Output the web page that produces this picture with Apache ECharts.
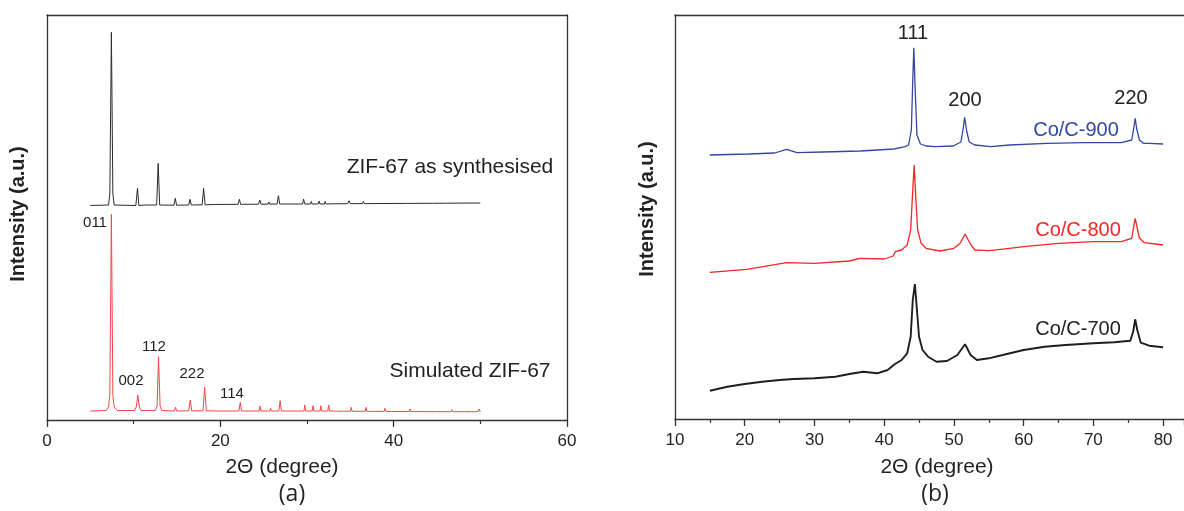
<!DOCTYPE html>
<html>
<head>
<meta charset="utf-8">
<script src="https://cdn.jsdelivr.net/npm/echarts@6/dist/echarts.min.js"></script>
<style>
  html, body { margin: 0; padding: 0; background: #fff; }
  #chart { width: 1184px; height: 511px; }
</style>
</head>
<body>
<div id="chart"></div>
<script>
// (a) ZIF-67 patterns, 2theta and intensity (a.u.)
var zifX = [5, 7.1, 7.25, 7.43, 7.6, 7.75, 10.25, 10.44, 10.6, 11.4, 11.5, 11.6, 12.65, 12.83, 13.0, 14.65, 14.8, 14.95, 16.35, 16.5, 16.65, 17.9, 18.07, 18.25, 19.3, 19.4, 19.5, 22.05, 22.2, 22.35, 24.4, 24.55, 24.7, 25.5, 25.6, 25.7, 26.55, 26.7, 26.85, 29.5, 29.6, 29.75, 30.4, 30.5, 30.6, 31.3, 31.4, 31.5, 32.0, 32.1, 32.2, 33.0, 33.1, 33.2, 34.7, 34.85, 35.0, 36.4, 36.5, 36.6, 39.0, 39.1, 39.2, 41.5, 41.6, 41.7, 44.5, 44.6, 44.7, 46.1, 46.2, 46.3, 48.0, 48.1, 48.2, 50];
var zifY = [214.5, 215, 226, 387.7, 226, 215, 214.5, 231.7, 214.5, 215, 216.5, 215, 215, 256.7, 215, 214.8, 221.7, 214.8, 215, 220.7, 215, 215.2, 231.7, 215.2, 215.5, 217, 215.5, 215.7, 220.7, 215.7, 215.8, 220, 215.8, 215.9, 218, 215.9, 216, 224.3, 216, 216, 221, 216, 216, 218.5, 216, 216, 219, 216, 216, 218.5, 216, 216.2, 218, 216.2, 216.3, 219.3, 216.3, 216.4, 218.5, 216.4, 216.5, 218, 216.5, 216.6, 218, 216.6, 216.7, 218, 216.7, 216.8, 218, 216.8, 216.9, 218, 216.9, 217];

var simX = [5, 6.8, 7.1, 7.25, 7.43, 7.6, 7.75, 8.1, 10.1, 10.3, 10.48, 10.65, 10.85, 12.5, 12.7, 12.87, 13.05, 13.25, 14.7, 14.83, 14.96, 16.35, 16.53, 16.7, 18.0, 18.19, 18.38, 19.5, 19.6, 19.7, 22.15, 22.3, 22.45, 24.5, 24.6, 24.7, 25.7, 25.8, 25.9, 26.75, 26.9, 27.05, 29.65, 29.75, 29.85, 30.6, 30.7, 30.8, 31.5, 31.6, 31.7, 32.4, 32.5, 32.6, 33.4, 33.5, 33.6, 34.2, 34.3, 34.4, 35.0, 35.1, 35.2, 36.7, 36.8, 36.9, 37.4, 37.5, 37.6, 38.9, 39.0, 39.1, 39.75, 39.85, 39.95, 41.8, 41.9, 42.0, 43.2, 43.3, 43.4, 44.1, 44.2, 44.3, 44.95, 45.05, 45.15, 45.7, 45.8, 45.9, 46.6, 46.7, 46.8, 47.45, 47.55, 47.65, 48.2, 48.3, 48.4, 49.0, 49.1, 49.2, 49.76, 49.86, 50];
var simY = [9, 9.5, 13, 25, 205.6, 25, 13, 9.5, 9.5, 13, 25, 13, 9.5, 9.5, 14, 63.3, 14, 9.5, 9, 12.7, 9, 9.2, 20, 9.2, 9.2, 32.7, 9.2, 9, 10.7, 9, 9, 17.7, 9, 9, 14, 9, 9, 11.7, 9, 9, 19.3, 9, 9, 15, 9, 9, 14.3, 9, 9, 14.3, 9, 9, 15, 9, 8.8, 10.7, 8.8, 8.8, 10, 8.8, 8.7, 12.7, 8.7, 8.7, 12.7, 8.7, 8.6, 10, 8.6, 8.6, 11.7, 8.6, 8.5, 9.5, 8.5, 8.5, 11, 8.5, 8.4, 9.5, 8.4, 8.4, 9.5, 8.4, 8.4, 10, 8.4, 8.3, 10, 8.3, 8.3, 10.5, 8.3, 8.3, 10, 8.3, 8.3, 10, 8.3, 8.3, 10, 8.3, 8.3, 11, 8.3];

// (b) Co/C samples
var co900X = [15, 20.5, 24.3, 26, 27.5, 31.2, 36.6, 41.4, 43, 43.5, 43.9, 44.1, 44.25, 44.45, 44.7, 45.2, 46, 47.3, 49.9, 51.0, 51.3, 51.55, 51.8, 52.2, 53, 55.3, 58, 63.3, 68.7, 74, 75.5, 75.8, 76.0, 76.2, 76.6, 77.2, 78, 80];
var co900Y = [264, 265, 266, 269.7, 266.3, 267, 268, 270, 272.3, 274, 289, 339, 371.3, 329, 284, 275, 273, 272.3, 273, 277, 289, 301.7, 289, 277, 274, 272.3, 274, 275.7, 276.3, 276.3, 279, 291, 300.7, 291, 279, 275.7, 275.7, 275];

var co800X = [15, 20.3, 26, 30, 35, 36.5, 40, 41.3, 41.6, 42.5, 43.3, 43.8, 44.1, 44.3, 44.55, 44.8, 45.3, 46, 48, 50, 50.9, 51.6, 52.3, 53, 55, 58, 60, 65, 70, 74, 75.5, 76.0, 76.6, 77.3, 80];
var co800Y = [146.7, 149.7, 156.3, 155.7, 158, 160.7, 160, 163, 167.3, 169, 174, 189, 229, 254, 219, 189, 175.7, 170.7, 168, 170.7, 175.7, 185, 175.7, 169, 168.3, 170.7, 172.3, 175.7, 177.3, 177.3, 180.7, 200.7, 181, 176.3, 174];

var co700X = [15, 17.5, 20, 22.5, 25, 27, 30, 33, 35, 37, 39, 40.5, 41.5, 42.5, 43.3, 43.8, 44.1, 44.4, 44.7, 45.0, 45.5, 46.3, 47.5, 49, 50.5, 51.6, 52.4, 53.3, 55, 57, 60, 63, 66, 70, 73, 75.3, 75.7, 76.0, 76.3, 76.8, 78, 80];
var co700Y = [28.3, 32.3, 35, 37.3, 39, 40, 40.7, 42.3, 45, 47.3, 45.7, 49, 54.7, 59, 65.7, 82.3, 119, 135, 109, 82.3, 69, 62.3, 57.3, 58, 64, 74.7, 64, 59, 60.7, 64, 69, 72.3, 74, 75.7, 76.7, 78.3, 87, 99.7, 89, 76.3, 73.3, 71.7];

function pairs(xs, ys) {
    return xs.map(function (x, i) { return [x, ys[i]]; });
}

var FONT = '"Liberation Sans", Arial, sans-serif';
var AXIS_COLOR = '#333';
var AXIS_LINE = { show: true, onZero: false, lineStyle: { color: AXIS_COLOR, width: 1.3 } };

// bottom axis with ticks and labels
function xAxisCfg(gridIndex, min, max, interval) {
    return {
        type: 'value',
        gridIndex: gridIndex,
        position: 'bottom',
        min: min,
        max: max,
        interval: interval,
        axisLine: AXIS_LINE,
        axisTick: { show: true, inside: false, length: 7, lineStyle: { color: AXIS_COLOR, width: 1.3 } },
        minorTick: { show: true, splitNumber: 2, length: 4, lineStyle: { color: AXIS_COLOR, width: 1.2 } },
        axisLabel: { show: true, margin: 13, fontSize: 17, color: '#222', fontFamily: FONT, showMaxLabel: max % interval === 0 },
        splitLine: { show: false }
    };
}

// plain frame line (left / top / right)
function frameAxis(gridIndex, min, max, position) {
    return {
        type: 'value',
        gridIndex: gridIndex,
        position: position,
        min: min,
        max: max,
        axisLine: AXIS_LINE,
        axisTick: { show: false },
        axisLabel: { show: false },
        splitLine: { show: false }
    };
}

function lineSeries(name, data, xi, yi, color, width) {
    return {
        name: name,
        type: 'line',
        xAxisIndex: xi,
        yAxisIndex: yi,
        data: data,
        showSymbol: false,
        symbol: 'none',
        lineStyle: { color: color, width: width },
        z: 3
    };
}

function txt(x, y, text, size, color, extra) {
    var style = {
        text: text,
        x: x,
        y: y,
        fill: color || '#222',
        font: (extra && extra.bold ? 'bold ' : '') + size + 'px ' + FONT,
        align: 'center',
        verticalAlign: 'middle'
    };
    var el = { type: 'text', style: style, z: 10 };
    if (extra && extra.rotate) {
        el.x = x; el.y = y;
        style.x = 0; style.y = 0;
        el.rotation = extra.rotate;
    }
    if (extra && extra.family) {
        style.font = size + 'px ' + extra.family;
    }
    return el;
}

var chart = echarts.init(document.getElementById('chart'));
var option = {
    backgroundColor: '#fff',
    animation: false,
    grid: [
        { left: 47, top: 15, width: 520, height: 405 },
        { left: 675, top: 15, width: 509, height: 404 }
    ],
    xAxis: [
        xAxisCfg(0, 0, 60, 20),
        xAxisCfg(1, 10, 83, 10),
        frameAxis(0, 0, 60, 'top'),
        frameAxis(1, 10, 83, 'top')
    ],
    yAxis: [
        frameAxis(0, 0, 405, 'left'),
        frameAxis(1, 0, 404, 'left'),
        frameAxis(0, 0, 405, 'right')
    ],
    series: [
        lineSeries('ZIF-67 as synthesised', pairs(zifX, zifY), 0, 0, '#2b2b2b', 1),
        lineSeries('Simulated ZIF-67', pairs(simX, simY), 0, 0, '#f04848', 1),
        lineSeries('Co/C-900', pairs(co900X, co900Y), 1, 1, '#3346a6', 1.3),
        lineSeries('Co/C-800', pairs(co800X, co800Y), 1, 1, '#f52525', 1.3),
        lineSeries('Co/C-700', pairs(co700X, co700Y), 1, 1, '#1e1e1e', 1.9)
    ],
    graphic: [
        // panel (a)
        txt(18, 214, 'Intensity (a.u.)', 20, '#222', { bold: true, rotate: Math.PI / 2 }),
        txt(450, 167, 'ZIF-67 as synthesised', 21),
        txt(470, 371, 'Simulated ZIF-67', 21),
        txt(95, 223, '011', 15),
        txt(131, 381, '002', 15),
        txt(154, 347, '112', 15),
        txt(192, 374, '222', 15),
        txt(232, 394, '114', 15),
        txt(282, 467, '2\u0398 (degree)', 21),
        txt(292, 494, '(a)', 23, '#222', { family: '"Open Sans", sans-serif' }),
        // panel (b)
        txt(647, 209, 'Intensity (a.u.)', 20, '#222', { bold: true, rotate: Math.PI / 2 }),
        txt(913, 33, '111', 20),
        txt(965, 100, '200', 20),
        txt(1131, 98, '220', 20),
        txt(1076, 130, 'Co/C-900', 20, '#3346a6'),
        txt(1078, 230, 'Co/C-800', 20, '#f52525'),
        txt(1078, 329, 'Co/C-700', 20, '#222'),
        txt(937, 467, '2\u0398 (degree)', 21),
        txt(935, 494, '(b)', 23, '#222', { family: '"Open Sans", sans-serif' })
    ]
};
chart.setOption(option);

window.addEventListener('resize', function () {
    chart.resize();
});
</script>
</body>
</html>
